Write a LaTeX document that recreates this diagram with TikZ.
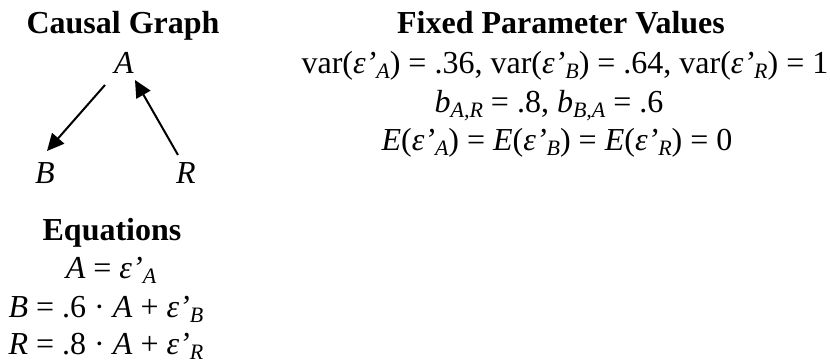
\documentclass[tikz,border=0pt]{standalone}
\usepackage{fontspec}
\setmainfont{Liberation Serif}
\usetikzlibrary{arrows.meta}
\newcommand{\sbx}[1]{\raisebox{-0.17em}{\fontsize{22}{22}\selectfont\itshape #1}}
\newcommand{\eps}{\textit{ε’}}
\begin{document}
\begin{tikzpicture}[x=1pt,y=-1pt,
  every node/.style={inner sep=0pt, outer sep=0pt, anchor=base, font=\fontsize{32}{38}\selectfont},
  title/.style={font=\fontsize{32}{38}\selectfont\bfseries},
  varnode/.style={font=\fontsize{32}{38}\selectfont\itshape},
  edge/.style={line width=2pt, -{Triangle[length=17pt,width=16pt]}}]
\useasboundingbox (0,0) rectangle (830,364);
% titles
\node[title] (cg) at (123,33) {Causal Graph};
\node[title] (fpv) at (561,33) {Fixed Parameter Values};
\node[title] (eqt) at (112,240) {Equations};
% graph
\node[varnode] (A) at (124,73) {A};
\node[varnode] (B) at (45,183) {B};
\node[varnode] (R) at (186,183) {R};
\draw[edge] ([shift={(-19,12)}]A.base) -- ([shift={(2,-32)}]B.base);
\draw[edge] ([shift={(-8,-28)}]R.base) -- ([shift={(11,7)}]A.base);
% parameters
\node (pv) at (565,73) {var(\eps\sbx{A}) = .36, var(\eps\sbx{B}) = .64, var(\eps\sbx{R}) = 1};
\node (pb) at (549,112) {\textit{b}\sbx{A,R} = .8, \textit{b}\sbx{B,A} = .6};
\node (pe) at (557,150) {\textit{E}(\eps\sbx{A}) = \textit{E}(\eps\sbx{B}) = \textit{E}(\eps\sbx{R}) = 0};
% equations
\node (eq1) at (111,278) {\textit{A} = \eps\sbx{A}};
\node (eq2) at (106,317) {\textit{B} = .6 · \textit{A} + \eps\sbx{B}};
\node (eq3) at (106,354) {\textit{R} = .8 · \textit{A} + \eps\sbx{R}};
\end{tikzpicture}
\end{document}
